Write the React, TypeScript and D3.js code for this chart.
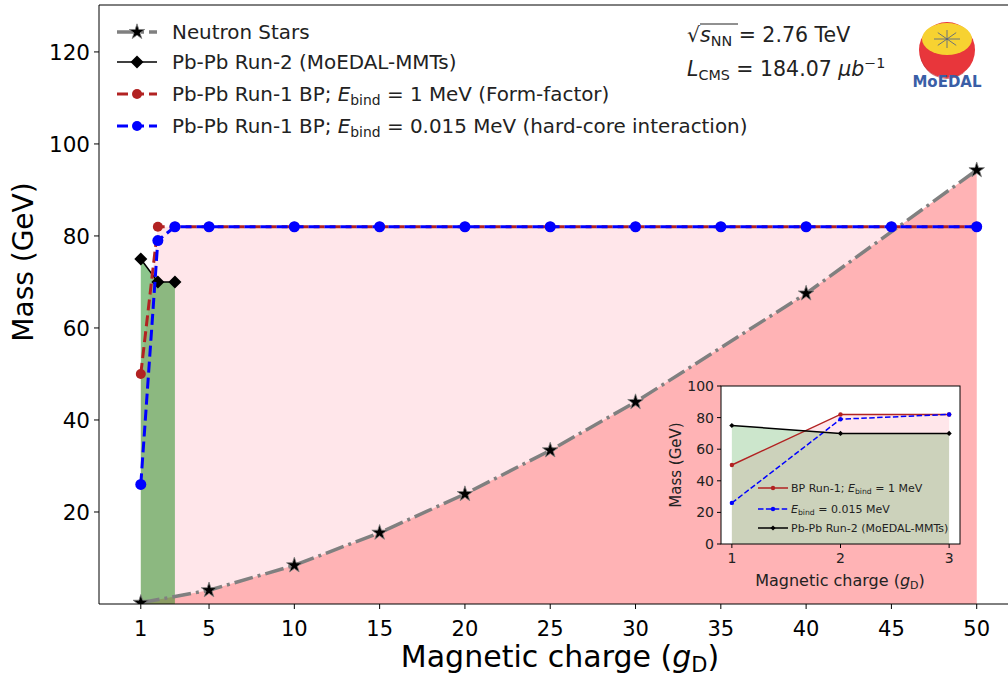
import React from 'react';
import * as d3 from 'd3';

// ---------- data ----------
const nsCharge = [1, 5, 10, 15, 20, 25, 30, 40, 50];
const nsMass = [0.27, 3.0, 8.4, 15.5, 23.9, 33.4, 43.9, 67.5, 94.3];
const run2Charge = [1, 2, 3];
const run2Mass = [75, 70, 70];
const bpCharge = [1, 2, 3, 5, 10, 15, 20, 25, 30, 35, 40, 45, 50];
const bpFormMass = [50, 82, 82, 82, 82, 82, 82, 82, 82, 82, 82, 82, 82];
const bpHardMass = [26, 79, 82, 82, 82, 82, 82, 82, 82, 82, 82, 82, 82];
const xTicks = [1, 5, 10, 15, 20, 25, 30, 35, 40, 45, 50];
const yTicks = [20, 40, 60, 80, 100, 120];

const insetCharge = [1, 2, 3];
const insetFormMass = [50, 82, 82];
const insetHardMass = [26, 79, 82];
const insetRun2Mass = [75, 70, 70];
const insetXTicks = [1, 2, 3];
const insetYTicks = [0, 20, 40, 60, 80, 100];

const FONT = "'DejaVu Sans', sans-serif";
const RED = '#b22222';
const BLUE = '#0000ff';
const GRAY = '#808080';

type P = [number, number];
const zip = (xs: number[], ys: number[]): P[] => xs.map((x, i) => [x, ys[i]]);

const diamond = (r: number) => `M0,${-r}L${r},0L0,${r}L${-r},0Z`;
const starPath = d3.symbol(d3.symbolStar, 75)() as string;

export default function App() {
  // main axes
  const x = d3.scaleLinear().domain([-1.45, 52.45]).range([99, 1018.5]);
  const y = d3.scaleLinear().domain([0, 130.2]).range([604, 5]);
  const X0 = 99, X1 = 1018, Y0 = 5, Y1 = 604;

  const line = d3.line<P>().x(d => x(d[0])).y(d => y(d[1]));
  const area = d3.area<P>().x(d => x(d[0])).y0(y(0)).y1(d => y(d[1]));

  const ns = zip(nsCharge, nsMass);
  const run2 = zip(run2Charge, run2Mass);
  const form = zip(bpCharge, bpFormMass);
  const hard = zip(bpCharge, bpHardMass);

  // inset axes
  const ix = d3.scaleLinear().domain([0.9, 3.1]).range([721, 960]);
  const iy = d3.scaleLinear().domain([0, 100]).range([544, 386]);
  const iline = d3.line<P>().x(d => ix(d[0])).y(d => iy(d[1]));
  const iarea = d3.area<P>().x(d => ix(d[0])).y0(iy(0)).y1(d => iy(d[1]));
  const iForm = zip(insetCharge, insetFormMass);
  const iHard = zip(insetCharge, insetHardMass);
  const iRun2 = zip(insetCharge, insetRun2Mass);

  const legendItems = [
    { y: 32, kind: 'ns' },
    { y: 62, kind: 'run2' },
    { y: 94, kind: 'form' },
    { y: 126, kind: 'hard' },
  ];
  const LF = 19.9;

  return (
    <svg width={1008} height={676} style={{ position: 'absolute', left: 0, top: 0, background: '#fff' }} fontFamily={FONT}>
      <defs>
        <clipPath id="plotClip">
          <rect x={X0} y={Y0} width={X1 - X0} height={Y1 - Y0} />
        </clipPath>
      </defs>

      <g clipPath="url(#plotClip)">
        {/* fills */}
        <path d={area(form) as string} fill="#ffc0cb" fillOpacity={0.4} />
        <path d={area(ns) as string} fill="#ffb3b5" />
        <path d={area(run2) as string} fill="green" fillOpacity={0.45} />

        {/* Neutron stars */}
        <path d={line(ns) as string} fill="none" stroke={GRAY} strokeWidth={3.5} strokeDasharray="19,5,3,5" />
        {ns.map((d, i) => (
          <path key={'ns' + i} d={starPath} transform={`translate(${x(d[0])},${y(d[1])})`} fill="#000" stroke={GRAY} strokeWidth={0.8} />
        ))}

        {/* Run-2 */}
        <path d={line(run2) as string} fill="none" stroke="#000" strokeWidth={1.5} />
        {run2.map((d, i) => (
          <path key={'r2' + i} d={diamond(6.5)} transform={`translate(${x(d[0])},${y(d[1])})`} fill="#000" />
        ))}

        {/* BP Run-1 form factor */}
        <path d={line(form) as string} fill="none" stroke={RED} strokeWidth={3} strokeDasharray="11,5" />
        {form.map((d, i) => (
          <circle key={'f' + i} cx={x(d[0])} cy={y(d[1])} r={5} fill={RED} />
        ))}

        {/* BP Run-1 hard core */}
        <path d={line(hard) as string} fill="none" stroke={BLUE} strokeWidth={3} strokeDasharray="11,5" />
        {hard.map((d, i) => (
          <circle key={'h' + i} cx={x(d[0])} cy={y(d[1])} r={5.5} fill={BLUE} />
        ))}
      </g>

      {/* spines */}
      <line x1={X0} x2={X0} y1={Y0} y2={Y1} stroke="#000" strokeWidth={1} />
      <line x1={X0} x2={1008} y1={Y0} y2={Y0} stroke="#000" strokeWidth={1} />
      <line x1={X0} x2={1008} y1={Y1} y2={Y1} stroke="#000" strokeWidth={1} />

      {/* x ticks */}
      {xTicks.map(t => (
        <g key={'xt' + t} transform={`translate(${x(t)},${Y1})`}>
          <line y1={0} y2={5} stroke="#000" />
          <text y={32} textAnchor="middle" fontSize={21} fill="#000">{t}</text>
        </g>
      ))}
      {/* y ticks */}
      {yTicks.map(t => (
        <g key={'yt' + t} transform={`translate(${X0},${y(t)})`}>
          <line x1={0} x2={-5} stroke="#000" />
          <text x={-9} dy="0.36em" textAnchor="end" fontSize={21.5} fill="#000">{t}</text>
        </g>
      ))}

      {/* axis labels */}
      <text x={560} y={667} textAnchor="middle" fontSize={30} fill="#000">
        Magnetic charge (<tspan fontStyle="italic">g</tspan>
        <tspan fontSize={21} dy={5}>D</tspan>
        <tspan dy={-5}>)</tspan>
      </text>
      <text transform="translate(33,262) rotate(-90)" textAnchor="middle" fontSize={28} fill="#000">Mass (GeV)</text>

      {/* legend */}
      {legendItems.map(it => {
        const lx1 = 117, lx2 = 157, mx = 137;
        let handle: React.ReactNode = null;
        let label: React.ReactNode = null;
        if (it.kind === 'ns') {
          handle = (
            <g>
              <line x1={lx1} x2={lx2} y1={it.y} y2={it.y} stroke={GRAY} strokeWidth={3.5} strokeDasharray="19,5,3,5" />
              <path d={starPath} transform={`translate(${mx},${it.y})`} fill="#000" stroke={GRAY} strokeWidth={0.8} />
            </g>
          );
          label = 'Neutron Stars';
        } else if (it.kind === 'run2') {
          handle = (
            <g>
              <line x1={lx1} x2={lx2} y1={it.y} y2={it.y} stroke="#000" strokeWidth={1.5} />
              <path d={diamond(6.5)} transform={`translate(${mx},${it.y})`} fill="#000" />
            </g>
          );
          label = 'Pb-Pb Run-2 (MoEDAL-MMTs)';
        } else {
          const c = it.kind === 'form' ? RED : BLUE;
          handle = (
            <g>
              <line x1={lx1} x2={lx2} y1={it.y} y2={it.y} stroke={c} strokeWidth={3} strokeDasharray="11,5" />
              <circle cx={mx} cy={it.y} r={5} fill={c} />
            </g>
          );
          label = (
            <>
              Pb-Pb Run-1 BP; <tspan fontStyle="italic">E</tspan>
              <tspan fontSize={13.9} dy={4}>bind</tspan>
              <tspan dy={-4}> = {it.kind === 'form' ? '1 MeV (Form-factor)' : '0.015 MeV (hard-core interaction)'}</tspan>
            </>
          );
        }
        return (
          <g key={'lg' + it.kind}>
            {handle}
            <text x={172} y={it.y} dy="0.36em" fontSize={LF} fill="#222">{label}</text>
          </g>
        );
      })}

      {/* annotation */}
      <text x={687} y={42} fontSize={20.5} fill="#222">
        √<tspan fontStyle="italic">s</tspan>
        <tspan fontSize={14.3} dy={4}>NN</tspan>
        <tspan dy={-4}> = 2.76 TeV</tspan>
      </text>
      <line x1={700} x2={738} y1={24} y2={24} stroke="#222" strokeWidth={1} />
      <text x={687} y={76} fontSize={20.5} fill="#222">
        <tspan fontStyle="italic">L</tspan>
        <tspan fontSize={14.3} dy={4}>CMS</tspan>
        <tspan dy={-4}> = 184.07 </tspan>
        <tspan fontStyle="italic">μb</tspan>
        <tspan fontSize={14.3} dy={-8}>−1</tspan>
      </text>

      {/* logo */}
      <g>
        <circle cx={947} cy={50} r={28} fill="#e8363b" />
        <path d="M920,52 A27,27 0 0,0 965,72 L950,78 A28,28 0 0,1 920,52Z" fill="#c0353a" opacity={0.7} />
        <ellipse cx={947} cy={39} rx={25} ry={16} fill="#f7d231" />
        {d3.range(8).map(i => {
          const a = (i * Math.PI) / 4;
          return (
            <line key={'lr' + i} x1={947} y1={39} x2={947 + 13 * Math.cos(a)} y2={39 + 9 * Math.sin(a)} stroke="#4a5a8a" strokeWidth={0.8} />
          );
        })}
        <text x={947} y={87} textAnchor="middle" fontSize={15} fontWeight="bold" fill="#3a5ea6">MoEDAL</text>
      </g>

      {/* inset */}
      <g>
        <rect x={721} y={386} width={239} height={158} fill="#fff" />
        <path d={iarea(iForm) as string} fill="#ffc0cb" fillOpacity={0.4} />
        <path d={iarea(iRun2) as string} fill="green" fillOpacity={0.2} />
        <path d={iline(iForm) as string} fill="none" stroke={RED} strokeWidth={1.5} />
        {iForm.map((d, i) => <circle key={'if' + i} cx={ix(d[0])} cy={iy(d[1])} r={2.2} fill={RED} />)}
        <path d={iline(iHard) as string} fill="none" stroke={BLUE} strokeWidth={1.5} strokeDasharray="5.5,2.4" />
        {iHard.map((d, i) => <circle key={'ih' + i} cx={ix(d[0])} cy={iy(d[1])} r={2.2} fill={BLUE} />)}
        <path d={iline(iRun2) as string} fill="none" stroke="#000" strokeWidth={1.5} />
        {iRun2.map((d, i) => <path key={'ir' + i} d={diamond(2.6)} transform={`translate(${ix(d[0])},${iy(d[1])})`} fill="#000" />)}
        <rect x={721} y={386} width={239} height={158} fill="none" stroke="#000" strokeWidth={1} />
        {insetXTicks.map(t => (
          <g key={'ixt' + t} transform={`translate(${ix(t)},544)`}>
            <line y1={0} y2={4} stroke="#000" />
            <text y={19} textAnchor="middle" fontSize={14} fill="#222">{t}</text>
          </g>
        ))}
        {insetYTicks.map(t => (
          <g key={'iyt' + t} transform={`translate(721,${iy(t)})`}>
            <line x1={0} x2={-4} stroke="#000" />
            <text x={-7} dy="0.36em" textAnchor="end" fontSize={14} fill="#222">{t}</text>
          </g>
        ))}
        <text x={840} y={586} textAnchor="middle" fontSize={16} fill="#222">
          Magnetic charge (<tspan fontStyle="italic">g</tspan>
          <tspan fontSize={11} dy={3}>D</tspan>
          <tspan dy={-3}>)</tspan>
        </text>
        <text transform="translate(681,465) rotate(-90)" textAnchor="middle" fontSize={15} fill="#222">Mass (GeV)</text>

        {/* inset legend */}
        <line x1={758} x2={788} y1={488} y2={488} stroke={RED} strokeWidth={1.5} />
        <circle cx={773} cy={488} r={2.2} fill={RED} />
        <text x={791} y={488} dy="0.36em" fontSize={11} fill="#222">
          BP Run-1; <tspan fontStyle="italic">E</tspan>
          <tspan fontSize={7.7} dy={2.5}>bind</tspan>
          <tspan dy={-2.5}> = 1 MeV</tspan>
        </text>
        <line x1={758} x2={788} y1={509} y2={509} stroke={BLUE} strokeWidth={1.5} strokeDasharray="5.5,2.4" />
        <circle cx={773} cy={509} r={2.2} fill={BLUE} />
        <text x={791} y={509} dy="0.36em" fontSize={11} fill="#222">
          <tspan fontStyle="italic">E</tspan>
          <tspan fontSize={7.7} dy={2.5}>bind</tspan>
          <tspan dy={-2.5}> = 0.015 MeV</tspan>
        </text>
        <line x1={758} x2={788} y1={528} y2={528} stroke="#000" strokeWidth={1.5} />
        <path d={diamond(2.6)} transform="translate(773,528)" fill="#000" />
        <text x={791} y={528} dy="0.36em" fontSize={11} fill="#222">Pb-Pb Run-2 (MoEDAL-MMTs)</text>
      </g>
    </svg>
  );
}
